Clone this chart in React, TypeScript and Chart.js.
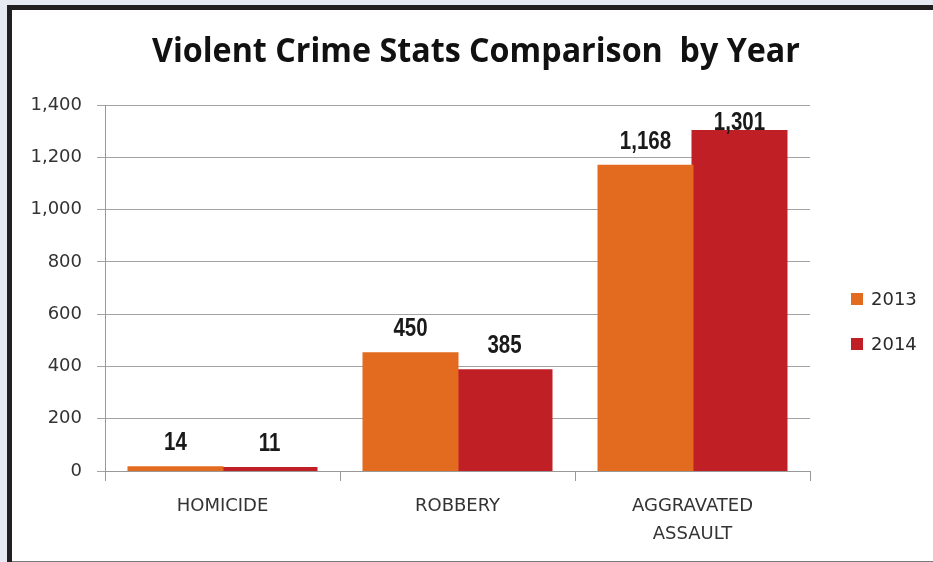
import React, { useEffect, useRef } from 'react';
import { Chart, registerables } from 'chart.js';

Chart.register(...registerables);

const chartTitle = 'Violent Crime Stats Comparison  by Year';
const categories = [['HOMICIDE'], ['ROBBERY'], ['AGGRAVATED', 'ASSAULT']];
const seriesNames = ['2013', '2014'];
const values2013 = [14, 450, 1168];
const values2014 = [11, 385, 1301];
const seriesColors = ['#E26B20', '#C11F26'];
const yMin = 0;
const yMax = 1400;
const yStep = 200;

const fmt = (v: number) => Number(v).toLocaleString('en-US');

const decorPlugin = {
  id: 'decor',
  beforeDraw(chart: any) {
    const { ctx, width, height } = chart;
    ctx.save();
    ctx.fillStyle = '#ffffff';
    ctx.fillRect(0, 0, width, height);
    ctx.restore();
  },
  afterDraw(chart: any) {
    const { ctx, chartArea } = chart;
    // title
    ctx.save();
    ctx.font = 'bold 34px "Open Sans", sans-serif';
    ctx.fillStyle = '#111111';
    ctx.textAlign = 'center';
    ctx.textBaseline = 'alphabetic';
    const w = ctx.measureText(chartTitle).width;
    const target = 648;
    ctx.translate(464, 52);
    ctx.scale(target / w, 1);
    ctx.fillText(chartTitle, 0, 0);
    ctx.restore();

    // data labels
    chart.data.datasets.forEach((ds: any, di: number) => {
      const meta = chart.getDatasetMeta(di);
      meta.data.forEach((el: any, i: number) => {
        const txt = fmt(ds.data[i]);
        const base = Math.max(el.y - 17, chartArea.top + 25);
        ctx.save();
        ctx.font = 'bold 25px "Liberation Sans", Arial, sans-serif';
        ctx.fillStyle = '#1a1a1a';
        ctx.textAlign = 'center';
        ctx.textBaseline = 'alphabetic';
        ctx.translate(el.x, base);
        ctx.scale(0.82, 1);
        ctx.fillText(txt, 0, 0);
        ctx.restore();
      });
    });

    // legend
    const lx = chartArea.right + 41;
    const ly0 = chartArea.top + 194;
    const gap = 45;
    chart.data.datasets.forEach((ds: any, di: number) => {
      const cy = ly0 + di * gap;
      ctx.save();
      ctx.fillStyle = ds.backgroundColor;
      ctx.fillRect(lx, cy - 6, 12, 12);
      ctx.font = '18px "DejaVu Sans", sans-serif';
      ctx.fillStyle = '#2a2a2a';
      ctx.textAlign = 'left';
      ctx.textBaseline = 'middle';
      ctx.fillText(ds.label, lx + 20, cy + 1);
      ctx.restore();
    });
  },
};

export default function App() {
  const ref = useRef<HTMLCanvasElement | null>(null);

  useEffect(() => {
    if (!ref.current) return;
    const chart = new Chart(ref.current, {
      type: 'bar',
      data: {
        labels: categories as any,
        datasets: [
          {
            label: seriesNames[0],
            data: values2013,
            backgroundColor: seriesColors[0],
            categoryPercentage: 0.8,
            barPercentage: 1.0,
            inflateAmount: 1,
          },
          {
            label: seriesNames[1],
            data: values2014,
            backgroundColor: seriesColors[1],
            categoryPercentage: 0.8,
            barPercentage: 1.0,
            inflateAmount: 1,
          },
        ],
      },
      options: {
        responsive: false,
        animation: false,
        devicePixelRatio: 1,
        layout: { padding: { top: 95, right: 123, bottom: 0, left: 0 } },
        plugins: {
          legend: { display: false },
          title: { display: false },
          tooltip: { enabled: false },
        },
        scales: {
          x: {
            afterFit: (s: any) => {
              s.height = 90;
            },
            grid: {
              display: true,
              drawOnChartArea: false,
              drawTicks: true,
              tickLength: 10,
              color: '#999999',
              offset: true,
            },
            border: { display: true, color: '#999999' },
            ticks: {
              autoSkip: false,
              maxRotation: 0,
              padding: 11,
              color: '#333333',
              font: { family: '"DejaVu Sans", sans-serif', size: 18, lineHeight: 1.55 },
            },
          },
          y: {
            min: yMin,
            max: yMax,
            afterFit: (s: any) => {
              s.width = 93;
            },
            grid: {
              color: '#a3a3a3',
              drawTicks: true,
              tickLength: 8,
            },
            border: { display: true, color: '#999999' },
            ticks: {
              stepSize: yStep,
              padding: 15,
              color: '#333333',
              font: { family: '"DejaVu Sans", sans-serif', size: 18 },
              callback: (v: any) => fmt(v),
            },
          },
        },
      },
      plugins: [decorPlugin],
    });
    return () => chart.destroy();
  }, []);

  return (
    <div
      style={{
        position: 'fixed',
        left: 0,
        top: 0,
        width: 933,
        height: 562,
        background: '#e8eaf3',
        overflow: 'hidden',
      }}
    >
      <div
        style={{
          position: 'absolute',
          left: 7,
          top: 5,
          width: 926,
          height: 557,
          background: '#231f20',
        }}
      />
      <canvas
        ref={ref}
        width={921}
        height={551}
        style={{ position: 'absolute', left: 12, top: 10, display: 'block' }}
      />
      <div
        style={{
          position: 'absolute',
          left: 12,
          top: 561,
          width: 921,
          height: 1,
          background: '#7a7a7a',
        }}
      />
    </div>
  );
}
